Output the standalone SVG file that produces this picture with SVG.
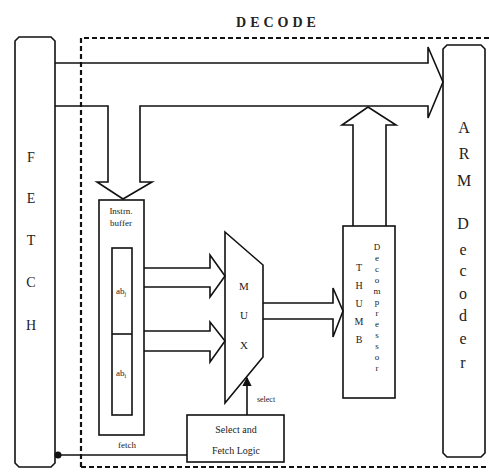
<svg xmlns="http://www.w3.org/2000/svg" width="489" height="473" viewBox="0 0 489 473">
<style>
.ln{fill:none;stroke:#111;stroke-width:1.6;stroke-linejoin:miter}
.bx{fill:#fff;stroke:#111;stroke-width:1.6}
.dash{fill:none;stroke:#111;stroke-width:2.2;stroke-dasharray:5,3}
.t{font-family:"Liberation Serif",serif;fill:#222;text-anchor:middle}
.big{font-size:14px}
.arm{font-size:16px}
.sm{font-size:8px}
</style>
<defs>
<marker id="ah" viewBox="0 0 8 8" refX="7" refY="4" markerWidth="6" markerHeight="6" orient="auto"><path d="M0,0 L8,4 L0,8 z" fill="#111"/></marker>
<marker id="dot" viewBox="0 0 8 8" refX="4" refY="4" markerWidth="5" markerHeight="5"><circle cx="4" cy="4" r="3.5" fill="#111"/></marker>
</defs>
<rect width="489" height="473" fill="#fff"/>
<g id="decode-region">
<path class="dash" d="M81,467 L81,38 L489,38"/>
<path class="dash" d="M81,467 L489,467"/>
<text class="t" x="278" y="27" font-size="14" font-weight="bold" letter-spacing="4">DECODE</text>
</g>
<g id="fetch">
<path class="bx" d="M19,37 L51,37 L55,41 L55,463 L51,467 L19,467 L15,463 L15,41 z"/>
<text class="t big" x="31" y="162">F</text>
<text class="t big" x="31" y="203">E</text>
<text class="t big" x="31" y="245">T</text>
<text class="t big" x="31" y="287">C</text>
<text class="t big" x="31" y="330">H</text>
</g>
<g id="arm-decoder">
<path class="bx" d="M447,45 L481,45 L485,49 L485,453 L481,457 L447,457 L443,453 L443,49 z"/>
<text class="t arm" x="464" y="133">A</text>
<text class="t arm" x="464" y="159">R</text>
<text class="t arm" x="464" y="186">M</text>
<text class="t arm" x="463" y="229">D</text>
<text class="t arm" x="463" y="255">e</text>
<text class="t arm" x="463" y="276">c</text>
<text class="t arm" x="463" y="299">o</text>
<text class="t arm" x="463" y="321">d</text>
<text class="t arm" x="463" y="344">e</text>
<text class="t arm" x="463" y="368">r</text>
</g>
<g id="instr-buffer">
<rect class="bx" x="99" y="200" width="45" height="235"/>
<text class="t" font-size="9" x="121" y="214">Instrn.</text>
<text class="t" font-size="9" x="121" y="226">buffer</text>
<rect class="bx" x="112" y="248" width="20" height="167"/>
<line class="ln" x1="112" y1="334" x2="132" y2="334" stroke-width="2"/>
<text class="t" font-size="9" x="121" y="294">ab<tspan font-size="6" dy="2">j</tspan></text>
<text class="t" font-size="9" x="121" y="376">ab<tspan font-size="6" dy="2">i</tspan></text>
<text class="t" font-size="9" x="127" y="448">fetch</text>
</g>
<g id="mux">
<path class="bx" d="M225,232 L263,265 L263,357 L225,403 z"/>
<text class="t" font-size="11" x="244" y="290">M</text>
<text class="t" font-size="11" x="244" y="319">U</text>
<text class="t" font-size="11" x="244" y="349">X</text>
</g>
<g id="thumb-decompressor">
<rect class="bx" x="343" y="226" width="52" height="172"/>
<g class="t" font-size="10">
<text x="359" y="271">T</text><text x="359" y="289">H</text><text x="359" y="307">U</text><text x="359" y="325">M</text><text x="359" y="343">B</text>
</g>
<g class="t" font-size="9">
<text x="377" y="250">D</text><text x="377" y="261">e</text><text x="377" y="272">c</text><text x="377" y="283">o</text><text x="377" y="294">m</text><text x="377" y="305">p</text><text x="377" y="316">r</text><text x="377" y="327">e</text><text x="377" y="338">s</text><text x="377" y="349">s</text><text x="377" y="360">o</text><text x="377" y="371">r</text>
</g>
</g>
<g id="select-fetch-logic">
<rect class="bx" x="187" y="415" width="97" height="47"/>
<text class="t" font-size="10" x="236" y="433">Select and</text>
<text class="t" font-size="10" x="236" y="454">Fetch Logic</text>
</g>
<g id="connectors">
<path class="ln" d="M55,63 L428,63 L428,47 L443,82 L428,118 L428,106 L140,106 L140,182 L152,182 L123,199 L97,182 L108,182 L108,106 L55,106"/>
<path class="ln" d="M144,268 L210,268 L210,255 L225,276 L210,297 L210,287 L144,287"/>
<path class="ln" d="M144,331 L210,331 L210,322 L225,341 L210,362 L210,351 L144,351"/>
<path class="ln" d="M263,303 L333,303 L333,288 L343,311 L333,337 L333,319 L263,319"/>
<path class="ln" d="M353,226 L353,125 L342,125 L368,107 L396,125 L386,125 L386,226"/>
<line class="ln" x1="247" y1="415" x2="247" y2="378" marker-end="url(#ah)"/>
<text class="t" font-size="8" x="266" y="402">select</text>
<line class="ln" x1="187" y1="455" x2="58" y2="455" marker-end="url(#dot)"/>
</g>
</svg>
